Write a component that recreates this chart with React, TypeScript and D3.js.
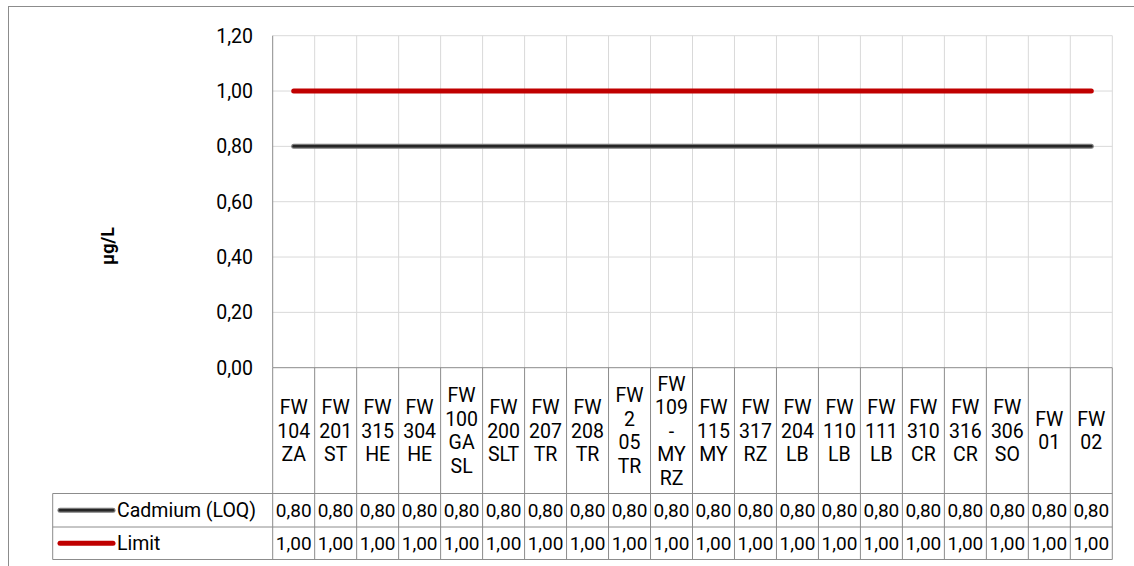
import React, { useEffect, useRef } from "react";
import * as d3 from "d3";

const categories: string[] = [
  "FW 104 ZA", "FW 201 ST", "FW 315 HE", "FW 304 HE", "FW 100 GA SL",
  "FW 200 SLT", "FW 207 TR", "FW 208 TR", "FW 2 05 TR", "FW 109 - MY RZ",
  "FW 115 MY", "FW 317 RZ", "FW 204 LB", "FW 110 LB", "FW 111 LB",
  "FW 310 CR", "FW 316 CR", "FW 306 SO", "FW 01", "FW 02",
];
const cadmiumValues: number[] = [0.8, 0.8, 0.8, 0.8, 0.8, 0.8, 0.8, 0.8, 0.8, 0.8, 0.8, 0.8, 0.8, 0.8, 0.8, 0.8, 0.8, 0.8, 0.8, 0.8];
const limitValues: number[] = [1, 1, 1, 1, 1, 1, 1, 1, 1, 1, 1, 1, 1, 1, 1, 1, 1, 1, 1, 1];
const yTicks: number[] = [0, 0.2, 0.4, 0.6, 0.8, 1.0, 1.2];
const seriesNames: string[] = ["Cadmium (LOQ)", "Limit"];
const yTitle = "µg/L";

const W = 1134;
const H = 566;
const FONT = "Roboto, 'Noto Sans', sans-serif";

export default function App() {
  const ref = useRef<SVGSVGElement | null>(null);

  useEffect(() => {
    const svg = d3.select(ref.current);
    svg.selectAll("*").remove();

    const plotL = 272.7, plotR = 1112.3, plotT = 35.7, plotB = 367.7;
    const headerB = 493.5, row1B = 527, row2B = 559.5, legendL = 52.7;
    const fmt = (v: number) => d3.format(".2f")(v).replace(".", ",");

    const x = d3.scaleBand<string>().domain(categories).range([plotL, plotR]).paddingInner(0).paddingOuter(0);
    const y = d3.scaleLinear().domain([0, 1.2]).range([plotB, plotT]);
    const cx = (c: string) => (x(c) as number) + x.bandwidth() / 2;

    // chart area border
    svg.append("rect").attr("x", 8.5).attr("y", 6.5).attr("width", 1140).attr("height", 580)
      .attr("fill", "#fff").attr("stroke", "#8c8c8c").attr("stroke-width", 1);

    // gridlines
    const gridColor = "#d9d9d9";
    const grid = svg.append("g");
    yTicks.forEach((t) => {
      if (t === 0) return;
      grid.append("line").attr("x1", plotL).attr("x2", plotR).attr("y1", y(t)).attr("y2", y(t))
        .attr("stroke", gridColor).attr("stroke-width", 1);
    });
    categories.forEach((c, i) => {
      if (i === 0) return;
      const xx = x(c) as number;
      grid.append("line").attr("x1", xx).attr("x2", xx).attr("y1", plotT).attr("y2", plotB)
        .attr("stroke", gridColor).attr("stroke-width", 1);
    });
    grid.append("line").attr("x1", plotR).attr("x2", plotR).attr("y1", plotT).attr("y2", plotB)
      .attr("stroke", gridColor).attr("stroke-width", 1);

    // left axis line
    svg.append("line").attr("x1", plotL).attr("x2", plotL).attr("y1", plotT).attr("y2", plotB)
      .attr("stroke", "#8c8c8c").attr("stroke-width", 1);

    // y tick labels
    svg.append("g").selectAll("text").data(yTicks).join("text")
      .attr("x", 253).attr("y", (d) => y(d)).attr("dy", "0.36em")
      .attr("text-anchor", "end").attr("font-family", FONT).attr("font-size", 19.5).attr("fill", "#000")
      .text((d) => fmt(d));

    // y title
    svg.append("text").attr("transform", `translate(114,246) rotate(-90)`)
      .attr("text-anchor", "middle").attr("font-family", FONT).attr("font-size", 18)
      .attr("font-weight", "bold").attr("fill", "#000").text(yTitle);

    // lines
    const line = d3.line<number>().x((_, i) => cx(categories[i])).y((d) => y(d));
    svg.append("path").datum(cadmiumValues).attr("d", line).attr("fill", "none")
      .attr("stroke", "#7a7a7a").attr("stroke-width", 5).attr("stroke-linecap", "round");
    svg.append("path").datum(cadmiumValues).attr("d", line).attr("fill", "none")
      .attr("stroke", "#262626").attr("stroke-width", 2.5).attr("stroke-linecap", "round");
    svg.append("path").datum(limitValues).attr("d", line).attr("fill", "none")
      .attr("stroke", "#c00000").attr("stroke-width", 5).attr("stroke-linecap", "round");

    // data table
    const tbl = svg.append("g");
    const tStroke = "#8c8c8c";
    tbl.append("line").attr("x1", plotL).attr("x2", plotR).attr("y1", plotB).attr("y2", plotB).attr("stroke", tStroke);
    [headerB, row1B, row2B].forEach((yy) => {
      tbl.append("line").attr("x1", legendL).attr("x2", plotR).attr("y1", yy).attr("y2", yy).attr("stroke", tStroke);
    });
    categories.forEach((c) => {
      const xx = x(c) as number;
      tbl.append("line").attr("x1", xx).attr("x2", xx).attr("y1", plotB).attr("y2", row2B).attr("stroke", tStroke);
    });
    tbl.append("line").attr("x1", plotR).attr("x2", plotR).attr("y1", plotB).attr("y2", row2B).attr("stroke", tStroke);
    tbl.append("line").attr("x1", legendL).attr("x2", legendL).attr("y1", headerB).attr("y2", row2B).attr("stroke", tStroke);

    // header labels
    const lh = 23.5;
    const headerMid = (plotB + headerB) / 2;
    categories.forEach((c) => {
      const parts = c.split(" ");
      const t = tbl.append("text").attr("text-anchor", "middle").attr("font-family", FONT)
        .attr("font-size", 19.5).attr("fill", "#000");
      parts.forEach((p, i) => {
        t.append("tspan").attr("x", cx(c))
          .attr("y", headerMid + (i - (parts.length - 1) / 2) * lh).attr("dy", "0.36em").text(p);
      });
    });

    // value rows
    const rows = [
      { name: seriesNames[0], values: cadmiumValues, top: headerB, bot: row1B },
      { name: seriesNames[1], values: limitValues, top: row1B, bot: row2B },
    ];
    rows.forEach((r, ri) => {
      const mid = (r.top + r.bot) / 2;
      r.values.forEach((v, i) => {
        tbl.append("text").attr("x", cx(categories[i])).attr("y", mid).attr("dy", "0.36em")
          .attr("text-anchor", "middle").attr("font-family", FONT).attr("font-size", 19)
          .attr("fill", "#000").text(fmt(v));
      });
      if (ri === 0) {
        tbl.append("line").attr("x1", 60).attr("x2", 113).attr("y1", mid).attr("y2", mid)
          .attr("stroke", "#7a7a7a").attr("stroke-width", 5).attr("stroke-linecap", "round");
        tbl.append("line").attr("x1", 60).attr("x2", 113).attr("y1", mid).attr("y2", mid)
          .attr("stroke", "#262626").attr("stroke-width", 2.5).attr("stroke-linecap", "round");
      } else {
        tbl.append("line").attr("x1", 60).attr("x2", 113).attr("y1", mid).attr("y2", mid)
          .attr("stroke", "#c00000").attr("stroke-width", 5).attr("stroke-linecap", "round");
      }
      tbl.append("text").attr("x", 117).attr("y", mid).attr("dy", "0.36em")
        .attr("font-family", FONT).attr("font-size", 19.5).attr("fill", "#000").text(r.name);
    });
  }, []);

  return (
    <div style={{ position: "fixed", left: 0, top: 0, width: W, height: H, background: "#fff" }}>
      <svg ref={ref} width={W} height={H} style={{ display: "block" }} />
    </div>
  );
}
